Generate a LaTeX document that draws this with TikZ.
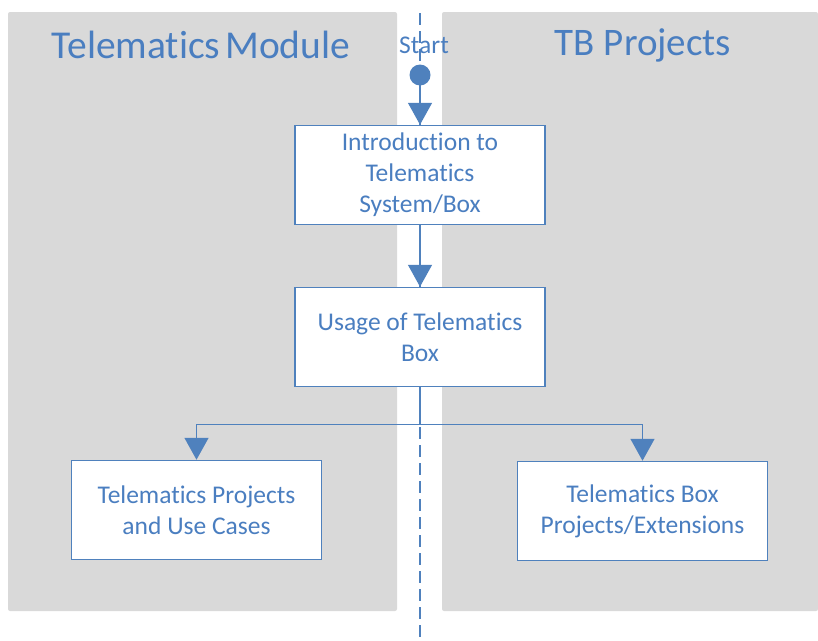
\documentclass[tikz,border=0pt]{standalone}
\usepackage{fontspec}
\setmainfont{Carlito}[Ligatures=NoCommon]
\usepackage{tikz}
\usetikzlibrary{arrows.meta}
\definecolor{lineblue}{HTML}{4F81BD}
\definecolor{textblue}{HTML}{4A7EC0}
\definecolor{panelgray}{HTML}{D9D9D9}
\tikzset{
	stagebox/.style={draw=lineblue,fill=white,line width=1.5pt,minimum width=250pt,minimum height=99pt,align=center,text=textblue,font=\fontsize{25.5}{31}\selectfont},
	flow/.style={draw=lineblue,line width=1.5pt,-{Triangle[width=24pt,length=22pt]}}
}
\begin{document}
\begin{tikzpicture}[x=1pt,y=-1pt]
	\useasboundingbox (0,0) rectangle (818,640);
	%PANELS
	\fill[panelgray,rounded corners=2pt] (8,12) rectangle (397,611);
	\fill[panelgray,rounded corners=2pt] (442,12) rectangle (818,611);
	\draw[lineblue,line width=1.5pt,dash pattern=on 12pt off 6pt] (420,13)--(420,640);
	
	%TITLES
	\node[text=textblue,font=\fontsize{39.5}{44}\selectfont] (tm) at (201,45) {Telematics\hspace{-0.1em} Module};
	\node[text=textblue,font=\fontsize{39}{44}\selectfont] (tb) at (643,45) {TB Projects};
	\node[text=textblue,font=\fontsize{25.5}{31}\selectfont] (st) at (424,45) {Start};
	
	%BOXES
	\node[circle,fill=lineblue,inner sep=0pt,minimum size=21pt] (start) at (420,75) {};
	\node[stagebox] (intro) at (420,175) {\raisebox{-2pt}{}Introduction to\\Telematics\\System/Box};
	\node[stagebox] (use) at (420,337) {Usage of Telematics\\Box};
	\node[stagebox] (cases) at (196.5,510) {Telematics Projects\\and Use Cases};
	\node[stagebox] (ext) at (642.5,511) {Telematics Box\\Projects/Extensions};
	
	%ARROWS
	\draw[flow] (start)--(intro);
	\draw[flow] (intro)--(use);
	\draw[draw=lineblue,line width=1.5pt] (use.south)--++(0,37) coordinate (split);
	\draw[flow] (split)-|(cases.north);
	\draw[flow] (split)-|(ext.north);
\end{tikzpicture}
\end{document}
